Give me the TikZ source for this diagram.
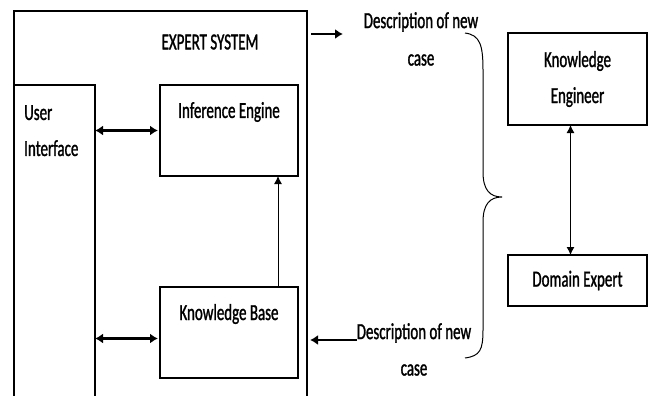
\documentclass[tikz,border=0pt]{standalone}
\usepackage{fontspec}
\setmainfont{Carlito}[FakeStretch=0.65,FakeBold=1.2]
\usetikzlibrary{arrows.meta}

\begin{document}
\begin{tikzpicture}[x=1pt,y=-1pt,
  box/.style={draw,line width=1.2pt,inner sep=0pt,outer sep=0pt,anchor=north west},
  txt/.style={font=\fontsize{23}{36}\selectfont,align=center,inner sep=0pt},
  fat/.style={line width=2.5pt,-{Latex[length=8pt,width=10pt]}},
  fatboth/.style={line width=2.5pt,{Latex[length=8pt,width=10pt]}-{Latex[length=8pt,width=10pt]}},
  thin/.style={line width=1pt,-{Latex[length=8pt,width=8pt]}},
  thinboth/.style={line width=1pt,{Latex[length=8pt,width=8pt]}-{Latex[length=8pt,width=8pt]}}]
\useasboundingbox (0,0) rectangle (653,396);

% the expert system, open at the bottom
\node[box,minimum width=293,minimum height=420] (expert) at (14,11) {};
\node[txt] (title) at (210,42) {EXPERT SYSTEM};
\node[box,minimum width=81,minimum height=340] (ui) at (14,85) {};
\node[txt,anchor=north west,align=left] (uitext) at (24,105) {User\\Interface};
\node[box,minimum width=138,minimum height=91] (ie) at (160,85) {};
\node[txt] (ietext) at (229,112) {Inference Engine};
\node[box,minimum width=138,minimum height=91] (kb) at (160,287) {};
\node[txt] (kbtext) at (229,314) {Knowledge Base};

\draw[fatboth] (ie.west -| ui.east) -- ([xshift=-2pt]ie.west);
\draw[fatboth] ([yshift=-6pt]kb.west -| ui.east) -- ([xshift=-2pt,yshift=-6pt]kb.west);
\draw[thin] ([xshift=49pt]kb.north) -- ([xshift=49pt]ie.south);

% cases going out and coming in
\node[txt] (desc1) at (421,22) {Description of new};
\node[txt] (case1) at (421,60) {case};
\node[txt] (desc2) at (414,333) {Description of new};
\node[txt] (case2) at (414,370) {case};
\coordinate (out) at (343,34);
\coordinate (in) at (357,340);
\draw[fat] (expert.east |- out) ++(4,0) -- (out);
\draw[fat] (in) -- ([xshift=3pt]expert.east |- in);

% brace
\draw[line width=1pt] (465,33) .. controls (480,35) and (483,45) .. (483,70)
  -- (483,172) .. controls (483,190) and (490,197) .. (502,197)
  .. controls (490,197) and (483,204) .. (483,222)
  -- (483,330) .. controls (483,350) and (480,356) .. (465,358);

% people
\node[box,minimum width=139,minimum height=92,txt] (ke) at (508,33) {};
\node[txt] (ketext) at (ke.center) {Knowledge\\Engineer};
\node[box,minimum width=139,minimum height=51] (de) at (508,255) {};
\node[txt] (detext) at (de.center) {Domain Expert};
\draw[thinboth] ([xshift=-7pt]ke.south) -- ([xshift=-7pt]de.north);
\end{tikzpicture}
\end{document}
